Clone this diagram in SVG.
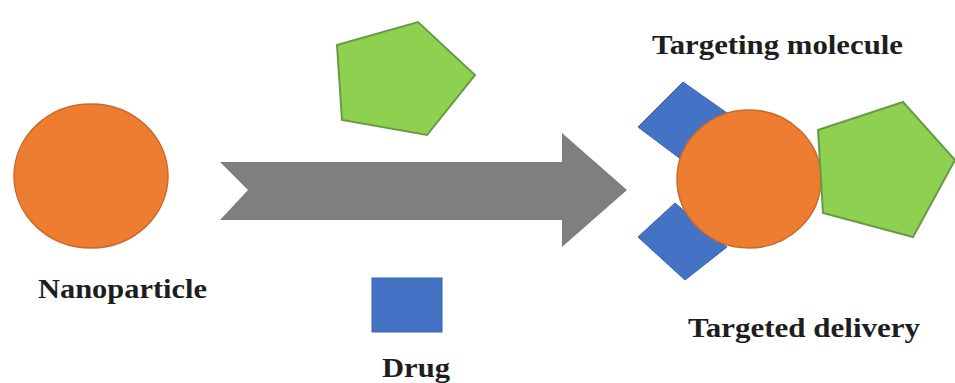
<svg xmlns="http://www.w3.org/2000/svg" width="955" height="383" viewBox="0 0 955 383">
  <style>
    .lbl { font-family: "Liberation Serif", "Times New Roman", serif; font-weight: bold; font-size: 28px; fill: #1e1e1e; }
    .orange { fill: #ED7D31; stroke: #C96A2A; stroke-width: 1.5; }
    .green { fill: #8ED04F; stroke: #6A9A45; stroke-width: 2; }
    .blue { fill: #4472C4; stroke: #3A63A8; stroke-width: 1; }
    .arrow { fill: #7F7F7F; }
  </style>
  <rect width="955" height="383" fill="#ffffff"/>

  <g id="nanoparticle">
    <ellipse class="orange" cx="91" cy="176" rx="77" ry="72"/>
    <text class="lbl" x="38" y="298" textLength="169" lengthAdjust="spacingAndGlyphs">Nanoparticle</text>
  </g>

  <g id="drug-pentagon">
    <polygon class="green" points="337,45 418,22 475,75 427,135 342,120"/>
  </g>

  <g id="drug">
    <rect class="blue" x="372" y="278" width="70" height="54"/>
    <text class="lbl" x="382" y="377" textLength="68" lengthAdjust="spacingAndGlyphs">Drug</text>
  </g>

  <g id="connectors">
    <polygon class="arrow" points="220,162 562,162 562,133 627,190 562,247 562,220 220,220 248,190"/>
  </g>

  <g id="targeted-delivery">
    <text class="lbl" x="652" y="54" textLength="251" lengthAdjust="spacingAndGlyphs">Targeting molecule</text>
    <polygon class="blue" points="638,127 683,82 727,113 682,160"/>
    <polygon class="blue" points="638,237 675,203 727,247 685,280"/>
    <ellipse class="orange" cx="749" cy="179" rx="72" ry="69"/>
    <polygon class="green" points="903,102 818,130 823,213 913,237 955,160"/>
    <text class="lbl" x="688" y="337" textLength="232" lengthAdjust="spacingAndGlyphs">Targeted delivery</text>
  </g>
</svg>
